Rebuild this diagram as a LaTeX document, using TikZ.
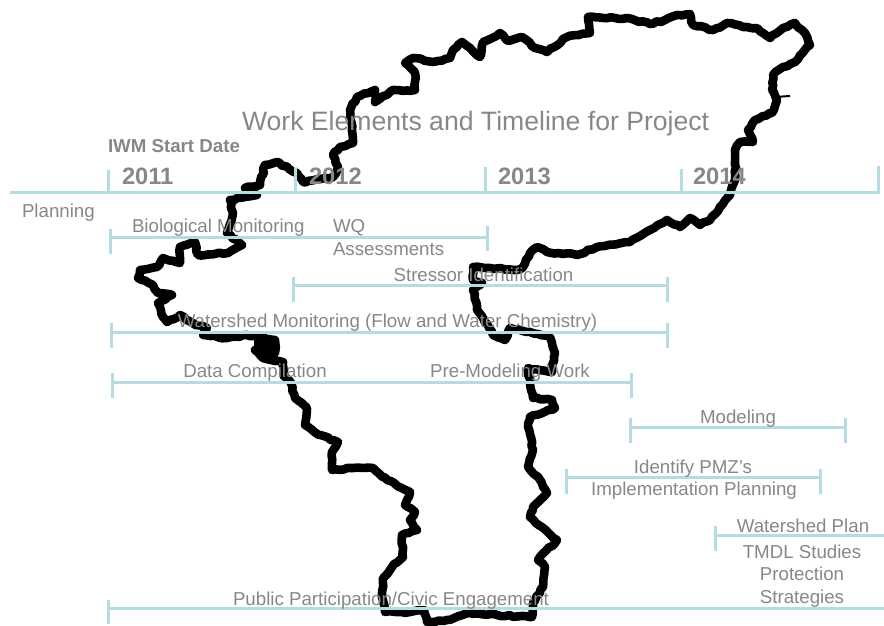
\documentclass[tikz,border=0pt]{standalone}
\usepackage{fontspec}
\usetikzlibrary{decorations.pathmorphing}
\setmainfont{Liberation Sans}
\definecolor{barteal}{HTML}{B5DDE1}
\definecolor{labelgray}{HTML}{878787}
\pgfmathsetseed{7}
\tikzset{
  outline/.style={draw=black,line width=8.6pt,line join=round,line cap=round,decorate,decoration={random steps,segment length=4pt,amplitude=0.9pt}},
  bar/.style={draw=barteal,line width=3pt},
  lab/.style={text=labelgray,inner sep=0pt,outer sep=0pt,anchor=base,font=\fontsize{18.7}{20}\selectfont},
  labw/.style={lab,anchor=base west},
  yearlab/.style={lab,anchor=base west,font=\fontsize{23.7}{26}\selectfont\bfseries},
}
\begin{document}
\begin{tikzpicture}[x=1pt,y=-1pt]
\useasboundingbox (0,0) rectangle (884,626);
% map outline
\draw[outline] (810,45) -- (805,33) -- (795,23) -- (783,28) -- (770,38) -- (757,28) -- (747,27) -- (727,23) -- (713,30) -- (693,25) -- (690,14) -- (677,15) -- (665,20) -- (650,24) -- (627,18) -- (603,18) -- (588,17) -- (590,33) -- (567,37) -- (547,52) -- (535,48) -- (522,37) -- (508,41) -- (500,33) -- (488,40) -- (483,42) -- (480,57) -- (470,48) -- (462,42) -- (453,50) -- (450,58) -- (433,62) -- (413,58) -- (405,63) -- (415,73) -- (415,90) -- (393,90) -- (375,102) -- (375,90) -- (357,97) -- (350,110) -- (353,143) -- (340,147) -- (333,155) -- (338,167) -- (333,177) -- (303,182) -- (297,173) -- (277,162) -- (265,165) -- (260,185) -- (245,188) -- (257,195) -- (230,200) -- (233,213) -- (227,233) -- (242,245) -- (228,253) -- (198,255) -- (195,242) -- (180,247) -- (180,263) -- (163,258) -- (157,267) -- (140,270) -- (138,278) -- (153,285) -- (158,293) -- (172,295) -- (158,303) -- (163,317) -- (167,322) -- (180,315) -- (195,325) -- (207,328) -- (203,335) -- (227,338) -- (247,335) -- (260,338) -- (275,340) -- (275,353) -- (255,350) -- (263,358) -- (283,362) -- (283,375) -- (291,383) -- (295,398) -- (307,408) -- (305,425) -- (320,435) -- (338,442) -- (332,452) -- (332,470) -- (353,468) -- (373,468) -- (387,480) -- (410,492) -- (405,505) -- (415,512) -- (410,520) -- (417,530) -- (402,535) -- (403,557) -- (392,567) -- (383,578) -- (382,593) -- (385,612) -- (410,612) -- (424,610) -- (427,622) -- (447,620) -- (470,613) -- (497,615) -- (532,617) -- (533,603) -- (543,587) -- (545,567) -- (538,560) -- (557,540) -- (530,517) -- (533,507) -- (547,493) -- (540,480) -- (528,467) -- (533,450) -- (528,427) -- (530,417) -- (555,408) -- (552,400) -- (533,398) -- (530,383) -- (528,368) -- (552,372) -- (555,353) -- (550,337) -- (530,332) -- (510,328) -- (505,340) -- (493,335) -- (483,318) -- (477,310) -- (473,290) -- (482,283) -- (473,280) -- (473,267) -- (490,268) -- (517,270) -- (523,267) -- (530,253) -- (537,247) -- (547,252) -- (577,255) -- (597,247) -- (630,242) -- (650,230) -- (667,220) -- (680,227) -- (690,218) -- (700,225) -- (710,220) -- (720,207) -- (730,195) -- (735,180) -- (735,150) -- (740,142) -- (753,142) -- (748,130) -- (755,120) -- (772,113) -- (777,100) -- (772,90) -- (773,75) -- (783,67) -- (795,62) -- cycle;
\fill[black] (254,337) -- (277,337) -- (278,362) -- (262,362) -- (254,350) -- cycle;
\draw[draw=black,line width=2pt] (775,97) -- (790,96);
% timeline
\draw[bar] (10,192) -- (878,192) -- (878,166);
\draw[bar] (108,170) -- (108,192);
\draw[bar] (295,167) -- (295,192);
\draw[bar] (485,167) -- (485,192);
\draw[bar] (681,169) -- (681,192);
% task bars
\draw[bar] (110,229) -- (110,254) (110,237) -- (487,237) (487,226) -- (487,251);
\draw[bar] (293,277) -- (293,302) (293,285) -- (667,285) (667,277) -- (667,302);
\draw[bar] (111,323) -- (111,348) (111,332) -- (667,332) (667,323) -- (667,348);
\draw[bar] (112,373) -- (112,398) (112,382) -- (631,382) (631,373) -- (631,398);
\draw[bar] (630,418) -- (630,443) (630,427) -- (845,427) (845,418) -- (845,443);
\draw[bar] (566,469) -- (566,494) (566,477) -- (820,477) (820,469) -- (820,494);
\draw[bar] (715,526) -- (715,551) (715,535) -- (884,535);
\draw[bar] (108,600) -- (108,624) (108,608) -- (884,608);
% texts
\node[labw,font=\fontsize{26.6}{30}\selectfont] (title) at (242,130) {Work Elements and Timeline for Project};
\node[labw,font=\fontsize{18.7}{20}\selectfont\bfseries] (start) at (108,152) {IWM Start Date};
\node[yearlab] (y11) at (122,184) {2011};
\node[yearlab] (y12) at (309,184) {2012};
\node[yearlab] (y13) at (498,184) {2013};
\node[yearlab] (y14) at (693,184) {2014};
\node[labw] (plan) at (22,217) {Planning};
\node[labw] (bio) at (132,232) {Biological Monitoring};
\node[labw] (wq) at (333,232) {WQ};
\node[labw] (assess) at (333,255) {Assessments};
\node[lab] (stress) at (483.5,281) {Stressor Identification};
\node[lab] (wsm) at (387.5,327) {Watershed Monitoring (Flow and Water Chemistry)};
\node[lab] (data) at (255,377) {Data Compilation};
\node[lab] (pre) at (510,377) {Pre-Modeling Work};
\node[lab] (model) at (738,423) {Modeling};
\node[lab] (pmz) at (693,473) {Identify PMZ’s};
\node[lab] (impl) at (694,495) {Implementation Planning};
\node[lab] (wsp) at (803,532) {Watershed Plan};
\node[lab] (tmdl) at (802,558) {TMDL Studies};
\node[lab] (prot) at (802,580) {Protection};
\node[lab] (strat) at (802,603) {Strategies};
\node[lab] (public) at (391,605) {Public Participation/Civic Engagement};
\end{tikzpicture}
\end{document}
